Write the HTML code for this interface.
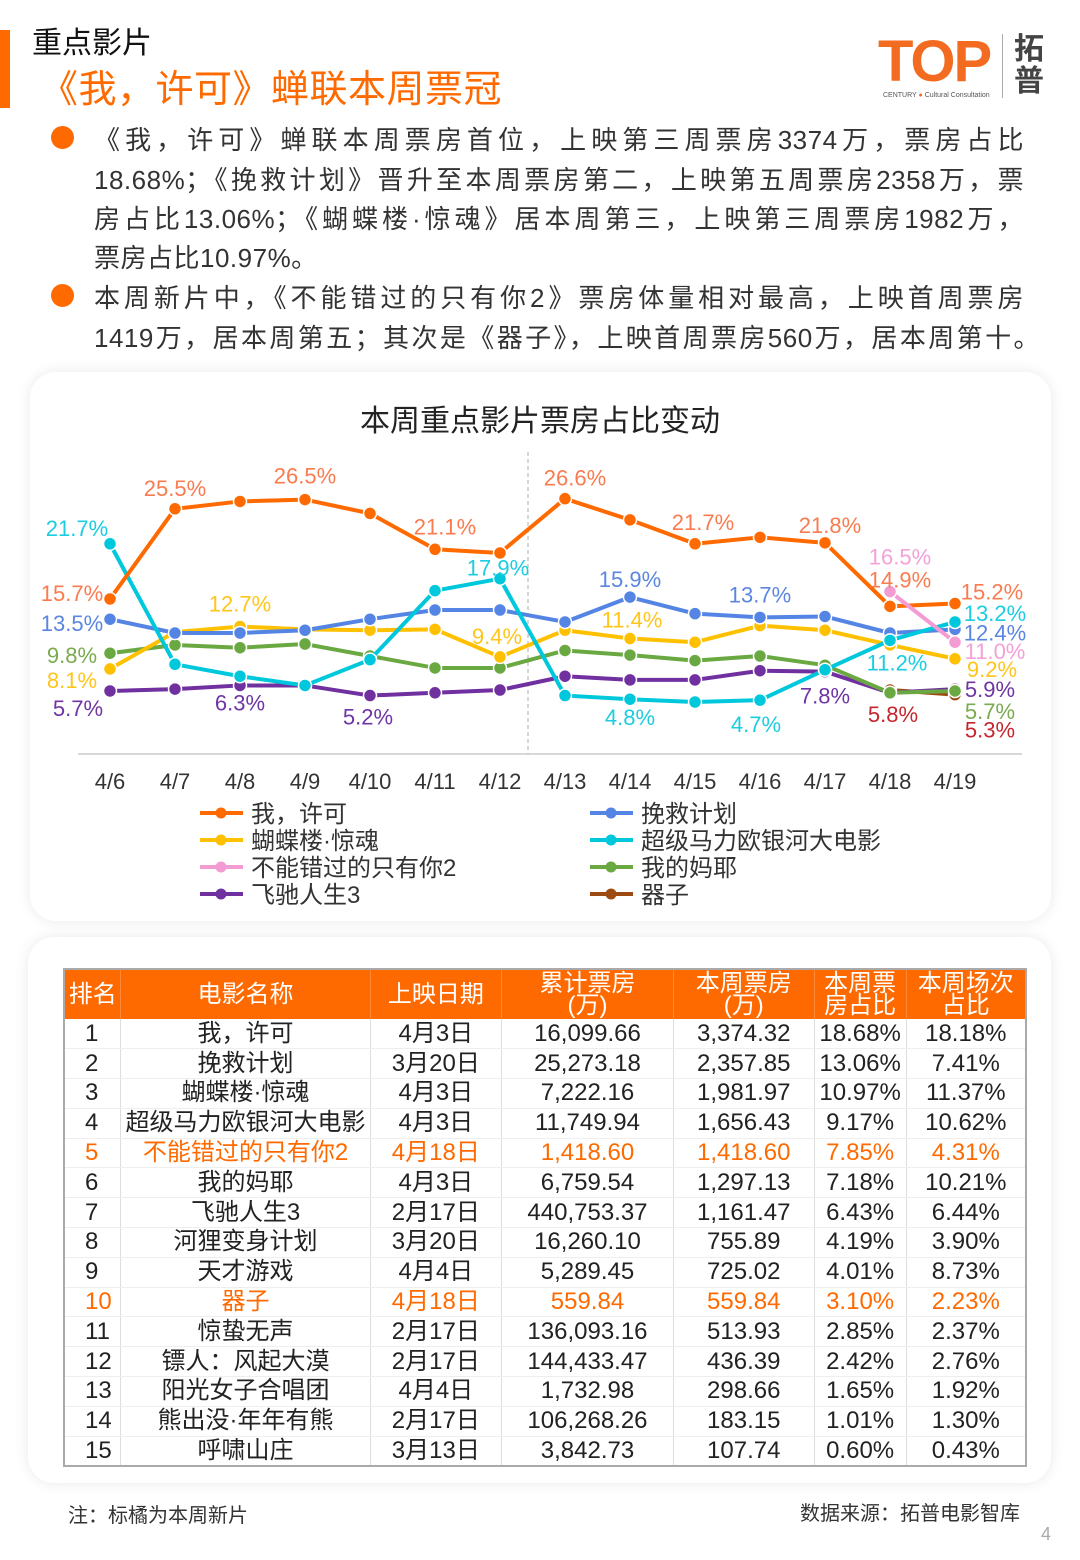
<!DOCTYPE html>
<html><head><meta charset="utf-8">
<style>
*{margin:0;padding:0;box-sizing:border-box}
body{width:1080px;height:1560px;position:relative;background:#fff;font-family:"Liberation Sans","Noto Sans CJK SC",sans-serif;color:#333;overflow:hidden}
.abs{position:absolute}
.card{position:absolute;background:#fff;border-radius:26px;box-shadow:0 0 14px rgba(0,0,0,0.09)}
.line{position:absolute;left:94px;font-size:26px;height:40px;line-height:40px;white-space:nowrap;letter-spacing:0.5px;color:#333}
.dot{position:absolute;left:51px;width:23px;height:23px;border-radius:50%;background:#ff6a00}
table{position:absolute;left:63px;top:968px;width:964px;border-collapse:collapse;border:2px solid #aaa;font-size:24px;color:#222}
th{background:#ff6a00;color:#fff;font-weight:normal;height:50px;line-height:22px;border-right:1px solid #ff8a3a}
td{height:29.8px;line-height:28px;text-align:center;border-right:1px solid #ddd;border-bottom:1px solid #eee;padding:0}
td:first-child{text-align:left;padding-left:20px}
tr.new td{color:#ff6a00}
</style></head><body>
<div class="abs" style="left:0;top:30px;width:10px;height:78px;background:#ff6a00"></div>
<div class="abs" style="left:32px;top:18px;font-size:30px;color:#111">重点影片</div>
<div class="abs" style="left:40px;top:58px;font-size:38px;color:#ff6a00;letter-spacing:0.5px">《我，许可》蝉联本周票冠</div>
<div class="abs" style="left:878px;top:32px;width:175px;height:72px">
 <div class="abs" style="left:0;top:0;font-size:58px;font-weight:bold;color:#f36b21;letter-spacing:-2px;line-height:60px">TOP</div>
 <div class="abs" style="left:5px;top:60px;font-size:7px;color:#555;white-space:nowrap">CENTURY <span style="color:#f36b21">●</span> Cultural Consultation</div>
 <div class="abs" style="left:124px;top:2px;width:1px;height:64px;background:#aaa"></div>
 <div class="abs" style="left:136px;top:2px;font-size:30px;line-height:32px;font-weight:bold;color:#444">拓<br>普</div>
</div>

<div class="dot" style="top:126px"></div>
<div class="dot" style="top:284px"></div>
<div>
<div class="line" style="top:120px;width:930px;text-align:justify;text-align-last:justify">《我，许可》蝉联本周票房首位，上映第三周票房3374万，票房占比</div>
<div class="line" style="top:160px;width:930px;text-align:justify;text-align-last:justify">18.68%；《挽救计划》晋升至本周票房第二，上映第五周票房2358万，票</div>
<div class="line" style="top:199px;width:930px;text-align:justify;text-align-last:justify">房占比13.06%；《蝴蝶楼·惊魂》居本周第三，上映第三周票房1982万，</div>
<div class="line" style="top:238px">票房占比10.97%。</div>
<div class="line" style="top:278px;width:930px;text-align:justify;text-align-last:justify">本周新片中，《不能错过的只有你2》票房体量相对最高，上映首周票房</div>
<div class="line" style="top:318px;width:946px;text-align:justify;text-align-last:justify">1419万，居本周第五；其次是《器子》，上映首周票房560万，居本周第十。</div>
</div>

<div class="card" style="left:30px;top:372px;width:1021px;height:549px"></div>
<div class="card" style="left:28px;top:937px;width:1023px;height:546px"></div>

<svg id="chart" class="abs" style="left:0;top:0" width="1080" height="930" font-family="Liberation Sans, Noto Sans CJK SC, sans-serif">
<text x="540" y="431" text-anchor="middle" font-size="30" fill="#222">本周重点影片票房占比变动</text>
<line x1="78" y1="754" x2="1022" y2="754" stroke="#ccc" stroke-width="1.5"/>
<line x1="528" y1="452" x2="528" y2="754" stroke="#bbb" stroke-width="1.2" stroke-dasharray="4,3"/>
<g id="plot"></g>
<g id="legend"></g>
</svg>

<table>
<colgroup><col style="width:57px"><col style="width:250px"><col style="width:132px"><col style="width:172px"><col style="width:141px"><col style="width:92px"><col style="width:120px"></colgroup>
<tr><th>排名</th><th>电影名称</th><th>上映日期</th><th>累计票房<br>(万)</th><th>本周票房<br>(万)</th><th>本周票<br>房占比</th><th>本周场次<br>占比</th></tr>
<tr><td>1</td><td>我，许可</td><td>4月3日</td><td>16,099.66</td><td>3,374.32</td><td>18.68%</td><td>18.18%</td></tr>
<tr><td>2</td><td>挽救计划</td><td>3月20日</td><td>25,273.18</td><td>2,357.85</td><td>13.06%</td><td>7.41%</td></tr>
<tr><td>3</td><td>蝴蝶楼·惊魂</td><td>4月3日</td><td>7,222.16</td><td>1,981.97</td><td>10.97%</td><td>11.37%</td></tr>
<tr><td>4</td><td>超级马力欧银河大电影</td><td>4月3日</td><td>11,749.94</td><td>1,656.43</td><td>9.17%</td><td>10.62%</td></tr>
<tr class="new"><td>5</td><td>不能错过的只有你2</td><td>4月18日</td><td>1,418.60</td><td>1,418.60</td><td>7.85%</td><td>4.31%</td></tr>
<tr><td>6</td><td>我的妈耶</td><td>4月3日</td><td>6,759.54</td><td>1,297.13</td><td>7.18%</td><td>10.21%</td></tr>
<tr><td>7</td><td>飞驰人生3</td><td>2月17日</td><td>440,753.37</td><td>1,161.47</td><td>6.43%</td><td>6.44%</td></tr>
<tr><td>8</td><td>河狸变身计划</td><td>3月20日</td><td>16,260.10</td><td>755.89</td><td>4.19%</td><td>3.90%</td></tr>
<tr><td>9</td><td>天才游戏</td><td>4月4日</td><td>5,289.45</td><td>725.02</td><td>4.01%</td><td>8.73%</td></tr>
<tr class="new"><td>10</td><td>器子</td><td>4月18日</td><td>559.84</td><td>559.84</td><td>3.10%</td><td>2.23%</td></tr>
<tr><td>11</td><td>惊蛰无声</td><td>2月17日</td><td>136,093.16</td><td>513.93</td><td>2.85%</td><td>2.37%</td></tr>
<tr><td>12</td><td>镖人：风起大漠</td><td>2月17日</td><td>144,433.47</td><td>436.39</td><td>2.42%</td><td>2.76%</td></tr>
<tr><td>13</td><td>阳光女子合唱团</td><td>4月4日</td><td>1,732.98</td><td>298.66</td><td>1.65%</td><td>1.92%</td></tr>
<tr><td>14</td><td>熊出没·年年有熊</td><td>2月17日</td><td>106,268.26</td><td>183.15</td><td>1.01%</td><td>1.30%</td></tr>
<tr><td>15</td><td>呼啸山庄</td><td>3月13日</td><td>3,842.73</td><td>107.74</td><td>0.60%</td><td>0.43%</td></tr>
</table>

<div class="abs" style="left:68px;top:1499px;font-size:20px;color:#333">注：标橘为本周新片</div>
<div class="abs" style="right:60px;top:1497px;font-size:20px;color:#333">数据来源：拓普电影智库</div>
<div class="abs" style="left:1041px;top:1524px;font-size:18px;color:#aaa">4</div>

<script>
const dates = ["4/6","4/7","4/8","4/9","4/10","4/11","4/12","4/13","4/14","4/15","4/16","4/17","4/18","4/19"];
const seriesNames = ["我，许可","挽救计划","蝴蝶楼·惊魂","超级马力欧银河大电影","不能错过的只有你2","我的妈耶","飞驰人生3","器子"];
const sWoXuke = [15.7,25.5,26.3,26.5,25.0,21.1,20.7,26.6,24.3,21.7,22.4,21.8,14.9,15.2];
const sWanjiu = [13.5,12.0,12.0,12.3,13.5,14.5,14.5,13.2,15.9,14.1,13.7,13.8,12.0,12.4];
const sHudie = [8.1,12.1,12.7,12.4,12.3,12.4,9.4,12.3,11.4,11.0,12.8,12.3,10.7,9.2];
const sMario = [21.7,8.6,7.3,6.3,9.1,16.6,17.9,5.2,4.8,4.5,4.7,8.0,11.2,13.2];
const sBuneng = [null,null,null,null,null,null,null,null,null,null,null,null,16.5,11.0];
const sMaye = [9.8,10.7,10.4,10.8,9.5,8.2,8.2,10.1,9.6,9.0,9.5,8.5,5.5,5.7];
const sFeichi = [5.7,5.9,6.3,6.3,5.2,5.5,5.8,7.3,6.9,6.9,7.9,7.8,5.5,5.9];
const sQizi = [null,null,null,null,null,null,null,null,null,null,null,null,5.8,5.3];
const allSeries = [sWoXuke,sWanjiu,sHudie,sMario,sBuneng,sMaye,sFeichi,sQizi];
const labelPoints = [[0,0],[0,1],[0,3],[0,5],[0,7],[0,9],[0,11],[0,12],[0,13],
 [1,0],[1,8],[1,10],[1,13],[2,0],[2,2],[2,6],[2,8],[2,13],
 [3,0],[3,6],[3,8],[3,10],[3,12],[3,13],[5,0],[5,13],[6,0],[6,2],[6,4],[6,11],[6,13],
 [4,12],[4,13],[7,12],[7,13]];
const labelOffsets = [[-38,-6],[0,-21],[0,-24],[10,-23],[10,-21],[8,-22],[5,-18],[10,-27],[37,-12],
 [-38,4],[0,-18],[0,-23],[40,3],[-38,11],[0,-23],[-3,-21],[2,-19],[37,10],
 [-33,-16],[-2,-11],[0,18],[-4,24],[7,22],[40,-9],[-38,2],[35,20],[-32,17],[0,17],[-2,21],[0,24],[35,0],
 [10,-35],[40,9],[3,24],[35,35]];
const lineColors = ["#ff6a00","#5585e4","#ffc000","#00c8dc","#f39bd3","#6aa842","#7030a0","#9c4a0f"];
const labelColors = ["#f97b4f","#5b86e0","#ffc51a","#1ccde0","#f3a1d6","#7aab4e","#6f35a5","#c4262c"];

const NS="http://www.w3.org/2000/svg";
const xs = i => 110 + i*65;
const ys = v => 743.4 - v*9.2;
const plot=document.getElementById('plot');
function mk(tag,attrs,parent){const e=document.createElementNS(NS,tag);for(const k in attrs)e.setAttribute(k,attrs[k]);parent.appendChild(e);return e;}
dates.forEach((d,i)=>{const t=mk('text',{x:xs(i),y:789,'text-anchor':'middle','font-size':22,fill:'#333'},plot);t.textContent=d;

});
const order=[7,6,5,2,1,3,0,4];
order.forEach(si=>{
 const s=allSeries[si];const g=mk('g',{},plot);
 
 
 let pts=[];s.forEach((v,i)=>{if(v!==null)pts.push(xs(i)+','+ys(v));});
 mk('polyline',{points:pts.join(' '),fill:'none',stroke:lineColors[si],'stroke-width':4,'stroke-linejoin':'round'},g);
 s.forEach((v,i)=>{if(v===null)return;const c=mk('circle',{cx:xs(i),cy:ys(v),r:6.5,fill:lineColors[si],stroke:'#fff','stroke-width':1.5},g);
 
 });
});
labelPoints.forEach((p,k)=>{
 const [si,i]=p;const v=allSeries[si][i];const o=labelOffsets[k];
 const t=mk('text',{x:xs(i)+o[0],y:ys(v)+o[1]+8,'text-anchor':'middle','font-size':22,fill:labelColors[si]},plot);
 t.textContent=v.toFixed(1)+'%';
 
 
});
const lg=document.getElementById('legend');
seriesNames.forEach((n,i)=>{
 const col=i%2, row=Math.floor(i/2);
 const x=col?590:200, y=813+row*27;
 const g=mk('g',{},lg);
 
 
 mk('line',{x1:x,y1:y,x2:x+43,y2:y,stroke:lineColors[i],'stroke-width':4},g);
 mk('circle',{cx:x+21,cy:y,r:5.5,fill:lineColors[i]},g);
 const t=mk('text',{x:x+51,y:y+9,'font-size':24,fill:'#333'},g);t.textContent=n;
});
</script>
</body></html>
